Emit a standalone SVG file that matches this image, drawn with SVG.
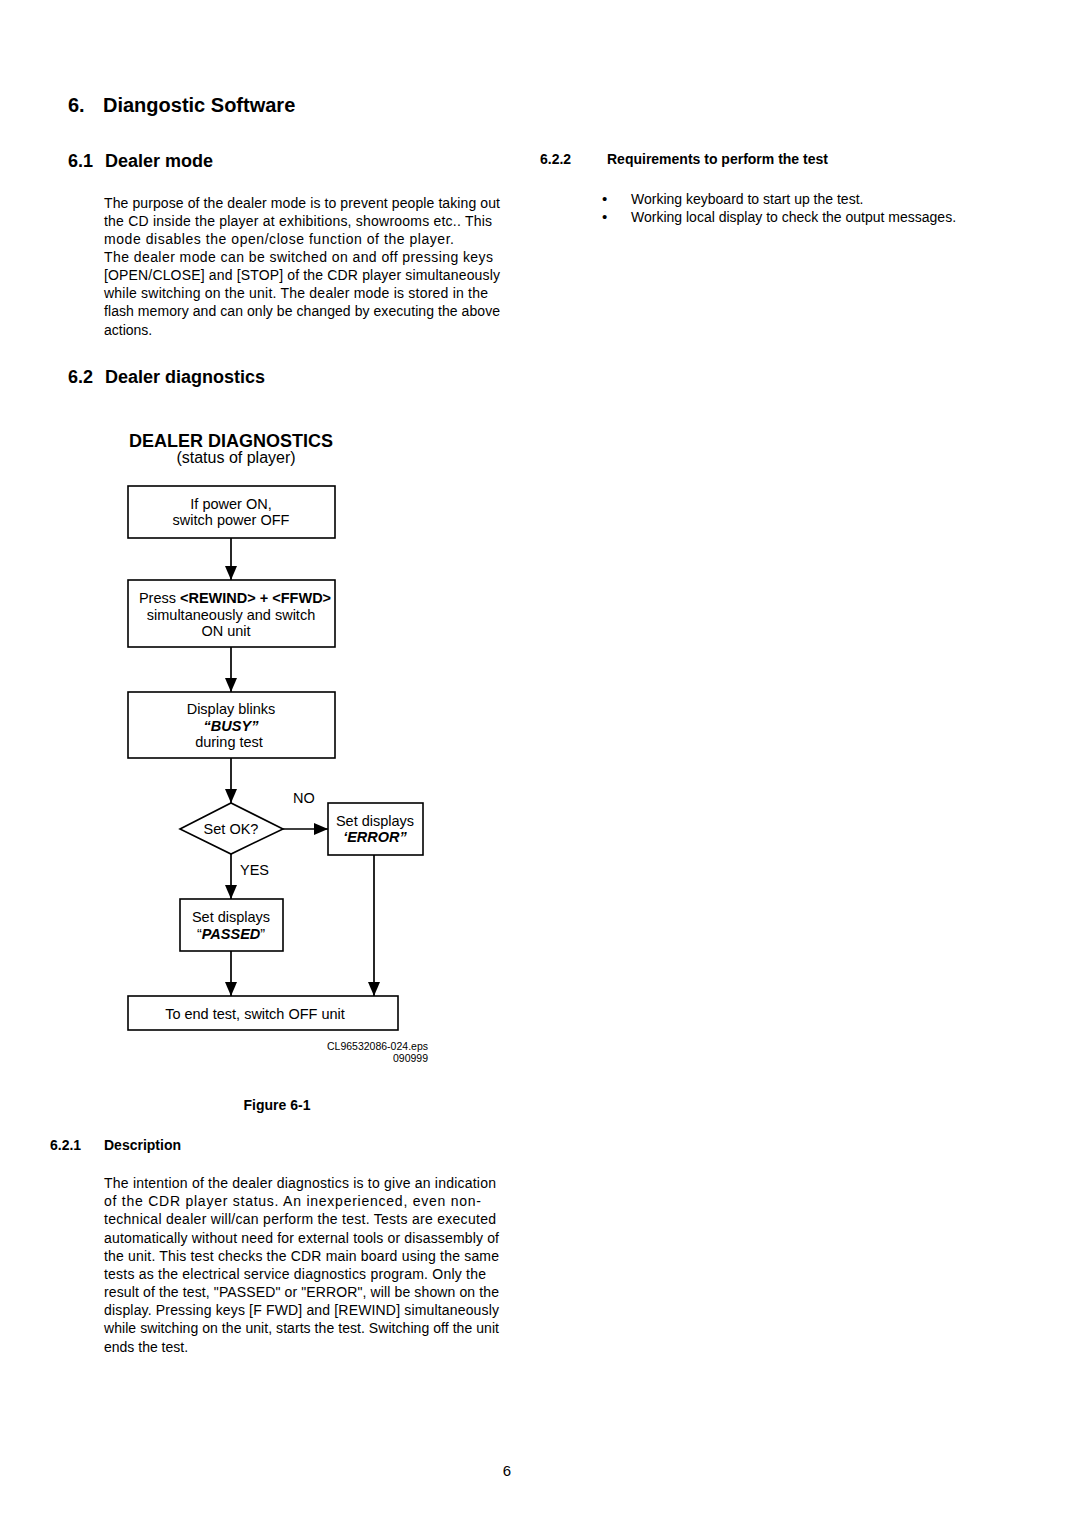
<svg xmlns="http://www.w3.org/2000/svg" width="1080" height="1528" viewBox="0 0 1080 1528">
<style>
text{font-family:"Liberation Sans",Arial,sans-serif;fill:#000}
.h1{font-size:20px;font-weight:bold}
.h2{font-size:18px;font-weight:bold}
.h3{font-size:14px;font-weight:bold}
.body{font-size:14px}
.d{font-size:14.5px;text-anchor:middle}
.b{font-weight:bold}
.bi{font-weight:bold;font-style:italic}
.box{fill:#fff;stroke:#000;stroke-width:1.6}
.con line{stroke:#000;stroke-width:1.7;fill:none}
.small{font-size:10.5px;text-anchor:end}
</style>
<defs>
<marker id="ah" markerUnits="userSpaceOnUse" markerWidth="15" markerHeight="13" refX="14" refY="6" orient="auto">
<path d="M0,0 L14,6 L0,12 z" fill="#000"/>
</marker>
</defs>
<rect width="1080" height="1528" fill="#fff"/>

<text class="h1" x="68" y="112">6.</text>
<text class="h1" x="103" y="112">Diangostic Software</text>

<text class="h2" x="68" y="167">6.1</text>
<text class="h2" x="105" y="167">Dealer mode</text>

<g class="body">
<text x="104" y="208" textLength="396" lengthAdjust="spacing">The purpose of the dealer mode is to prevent people taking out</text>
<text x="104" y="226" textLength="388" lengthAdjust="spacing">the CD inside the player at exhibitions, showrooms etc.. This</text>
<text x="104" y="244" textLength="350" lengthAdjust="spacing">mode disables the open/close function of the player.</text>
<text x="104" y="262" textLength="389" lengthAdjust="spacing">The dealer mode can be switched on and off pressing keys</text>
<text x="104" y="280" textLength="396" lengthAdjust="spacing">[OPEN/CLOSE] and [STOP]  of the CDR player simultaneously</text>
<text x="104" y="298" textLength="384" lengthAdjust="spacing">while switching on the unit. The dealer mode is stored in the</text>
<text x="104" y="316" textLength="396" lengthAdjust="spacing">flash memory and can only be changed by executing the above</text>
<text x="104" y="335">actions.</text>
</g>

<text class="h2" x="68" y="383">6.2</text>
<text class="h2" x="105" y="383">Dealer diagnostics</text>

<text class="h3" x="540" y="164">6.2.2</text>
<text class="h3" x="607" y="164">Requirements to perform the test</text>
<g class="body">
<text x="602" y="204" style="font-size:15px">•</text>
<text x="631" y="204">Working keyboard to start up the test.</text>
<text x="602" y="222" style="font-size:15px">•</text>
<text x="631" y="222">Working local display to check the output messages.</text>
</g>

<text x="231" y="447" style="font-size:18px;font-weight:bold;text-anchor:middle">DEALER DIAGNOSTICS</text>
<text x="236" y="463" style="font-size:16px;text-anchor:middle">(status of player)</text>

<g class="con">
<line x1="231" y1="538" x2="231" y2="580" marker-end="url(#ah)"/>
<line x1="231" y1="647" x2="231" y2="692" marker-end="url(#ah)"/>
<line x1="231" y1="758" x2="231" y2="803" marker-end="url(#ah)"/>
<line x1="283" y1="829" x2="328" y2="829" marker-end="url(#ah)"/>
<line x1="231" y1="854" x2="231" y2="899" marker-end="url(#ah)"/>
<line x1="231" y1="951" x2="231" y2="996" marker-end="url(#ah)"/>
<line x1="374" y1="855" x2="374" y2="996" marker-end="url(#ah)"/>
</g>

<g id="n1">
<rect class="box" x="128" y="486" width="207" height="52"/>
<text class="d" x="231" y="509">If power ON,</text>
<text class="d" x="231" y="525">switch power OFF</text>
</g>

<g id="n2">
<rect class="box" x="128" y="580" width="207" height="67"/>
<text class="d" x="235" y="603">Press <tspan class="b">&lt;REWIND&gt; + &lt;FFWD&gt;</tspan></text>
<text class="d" x="231" y="620">simultaneously and switch</text>
<text class="d" x="226" y="636">ON unit</text>
</g>

<g id="n3">
<rect class="box" x="128" y="692" width="207" height="66"/>
<text class="d" x="231" y="714">Display blinks</text>
<text class="d bi" x="231" y="731">“BUSY”</text>
<text class="d" x="229" y="747">during test</text>
</g>

<g id="n4">
<polygon class="box" points="180,829 231,803 283,829 231,854"/>
<text class="d" x="231" y="834">Set OK?</text>
</g>
<text x="293" y="803" style="font-size:14.5px">NO</text>
<text x="240" y="875" style="font-size:14.5px">YES</text>

<g id="n5">
<rect class="box" x="328" y="803" width="95" height="52"/>
<text class="d" x="375" y="826">Set displays</text>
<text class="d bi" x="375" y="842">‘ERROR”</text>
</g>

<g id="n6">
<rect class="box" x="180" y="899" width="103" height="52"/>
<text class="d" x="231" y="922">Set displays</text>
<text class="d" x="231" y="939">“<tspan class="bi">PASSED</tspan>”</text>
</g>

<g id="n7">
<rect class="box" x="128" y="996" width="270" height="34"/>
<text class="d" x="255" y="1019">To end test, switch OFF unit</text>
</g>

<text class="small" x="428" y="1050">CL96532086-024.eps</text>
<text class="small" x="428" y="1062">090999</text>

<text class="h3" x="277" y="1110" style="text-anchor:middle">Figure 6-1</text>

<text class="h3" x="50" y="1150">6.2.1</text>
<text class="h3" x="104" y="1150">Description</text>

<g class="body">
<text x="104" y="1188" textLength="392" lengthAdjust="spacing">The intention of the dealer diagnostics is to give an indication</text>
<text x="104" y="1206" textLength="377" lengthAdjust="spacing">of the CDR player status. An inexperienced, even non-</text>
<text x="104" y="1224" textLength="392" lengthAdjust="spacing">technical dealer will/can perform the test. Tests are executed</text>
<text x="104" y="1243" textLength="395" lengthAdjust="spacing">automatically without need for external tools or disassembly of</text>
<text x="104" y="1261" textLength="395" lengthAdjust="spacing">the unit. This test checks the CDR main board using the same</text>
<text x="104" y="1279" textLength="382" lengthAdjust="spacing">tests as the electrical service diagnostics program. Only the</text>
<text x="104" y="1297" textLength="395" lengthAdjust="spacing">result of the test, "PASSED" or  "ERROR", will be shown on the</text>
<text x="104" y="1315" textLength="395" lengthAdjust="spacing">display. Pressing keys [F FWD] and [REWIND] simultaneously</text>
<text x="104" y="1333" textLength="395" lengthAdjust="spacing">while switching on the unit, starts the test. Switching off the unit</text>
<text x="104" y="1352">ends the test.</text>
</g>

<text x="507" y="1476" style="font-size:15px;text-anchor:middle">6</text>
</svg>
